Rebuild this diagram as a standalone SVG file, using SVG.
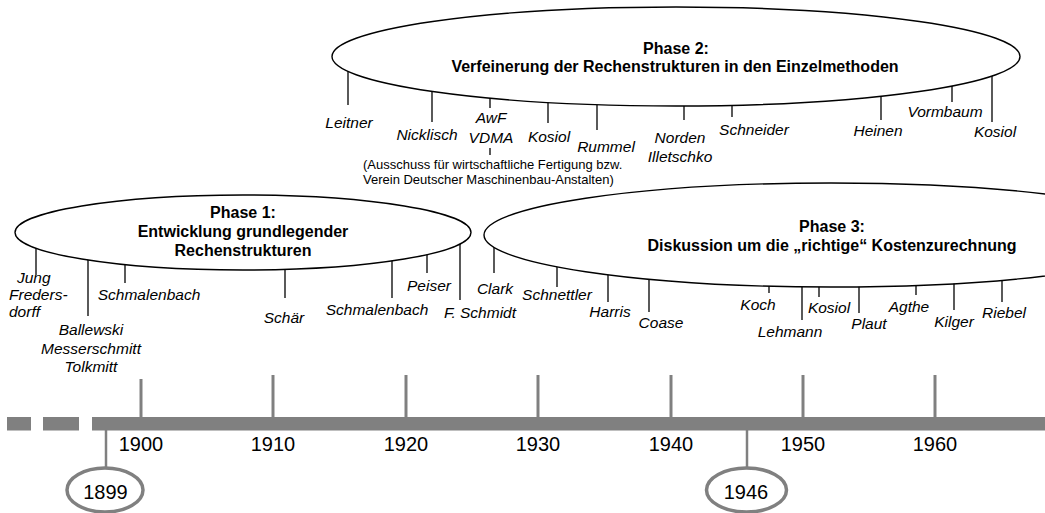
<svg xmlns="http://www.w3.org/2000/svg" width="1045" height="513" viewBox="0 0 1045 513">
<style>
.ph{fill:#fff;stroke:#000;stroke-width:1.4}
.tk{stroke:#000;stroke-width:1.3;fill:none}
.gl{stroke:#808080;stroke-width:2.5;fill:none}
.gtk{stroke:#808080;stroke-width:3;fill:none}
.bar{fill:#808080}
.mk{fill:#fff;stroke:#808080;stroke-width:3.5}
text{font-family:"Liberation Sans",Arial,Helvetica,sans-serif;fill:#000}
.nm{font-style:italic;font-size:15.5px;text-anchor:middle}
.nl{font-style:italic;font-size:15.5px;text-anchor:start}
.ti{font-weight:bold;font-size:16px;text-anchor:middle}
.yr{font-size:20px;text-anchor:middle}
.note{font-size:13px}
</style>
<g id="timeline">
<rect class="bar" x="7" y="417" width="24" height="13.5"/>
<rect class="bar" x="43" y="417" width="36" height="13.5"/>
<rect class="bar" x="92" y="417" width="953" height="13.5"/>
<line class="gtk" x1="141" y1="379" x2="141" y2="418"/>
<line class="gtk" x1="273" y1="375" x2="273" y2="418"/>
<line class="gtk" x1="406" y1="375" x2="406" y2="418"/>
<line class="gtk" x1="538" y1="375" x2="538" y2="418"/>
<line class="gtk" x1="671" y1="375" x2="671" y2="418"/>
<line class="gtk" x1="803" y1="375" x2="803" y2="418"/>
<line class="gtk" x1="935" y1="375" x2="935" y2="418"/>
<text class="yr" x="141" y="451">1900</text>
<text class="yr" x="273" y="451">1910</text>
<text class="yr" x="406" y="451">1920</text>
<text class="yr" x="538" y="451">1930</text>
<text class="yr" x="671" y="451">1940</text>
<text class="yr" x="803" y="451">1950</text>
<text class="yr" x="935" y="451">1960</text>
</g>
<g id="connectors">
<line class="gl" x1="106" y1="430" x2="106" y2="469"/>
<line class="gl" x1="747" y1="430" x2="747" y2="469"/>
<line class="tk" x1="348" y1="68" x2="348" y2="105"/>
<line class="tk" x1="432" y1="88" x2="432" y2="122"/>
<line class="tk" x1="490" y1="95" x2="490" y2="108"/>
<line class="tk" x1="490" y1="148" x2="490" y2="155"/>
<line class="tk" x1="548" y1="99" x2="548" y2="123"/>
<line class="tk" x1="597" y1="101" x2="597" y2="130"/>
<line class="tk" x1="684" y1="102" x2="684" y2="120"/>
<line class="tk" x1="732" y1="102" x2="732" y2="117"/>
<line class="tk" x1="881" y1="93" x2="881" y2="120"/>
<line class="tk" x1="952" y1="83" x2="952" y2="102"/>
<line class="tk" x1="992" y1="73" x2="992" y2="122"/>
<line class="tk" x1="36" y1="245" x2="36" y2="275"/>
<line class="tk" x1="88" y1="257" x2="88" y2="316"/>
<line class="tk" x1="125" y1="261" x2="125" y2="283"/>
<line class="tk" x1="285" y1="266" x2="285" y2="298"/>
<line class="tk" x1="392" y1="258" x2="392" y2="298"/>
<line class="tk" x1="427" y1="251" x2="427" y2="273"/>
<line class="tk" x1="460" y1="241" x2="460" y2="300"/>
<line class="tk" x1="494" y1="244" x2="494" y2="273"/>
<line class="tk" x1="557" y1="264" x2="557" y2="287"/>
<line class="tk" x1="608" y1="272" x2="608" y2="302"/>
<line class="tk" x1="649" y1="276" x2="649" y2="312"/>
<line class="tk" x1="769" y1="283" x2="769" y2="293"/>
<line class="tk" x1="802" y1="284" x2="802" y2="320"/>
<line class="tk" x1="819" y1="284" x2="819" y2="297"/>
<line class="tk" x1="859" y1="284" x2="859" y2="313"/>
<line class="tk" x1="916" y1="282" x2="916" y2="295"/>
<line class="tk" x1="954" y1="280" x2="954" y2="310"/>
<line class="tk" x1="1002" y1="277" x2="1002" y2="302"/>
</g>
<g id="phase2">
<ellipse class="ph" cx="676" cy="56.5" rx="344" ry="49.5"/>
<text class="ti" x="676" y="53.5">Phase 2:</text>
<text class="ti" x="675" y="72">Verfeinerung der Rechenstrukturen in den Einzelmethoden</text>
</g>
<g id="phase1">
<ellipse class="ph" cx="243" cy="232.5" rx="228" ry="37.5"/>
<text class="ti" x="243" y="218">Phase 1:</text>
<text class="ti" x="243" y="237">Entwicklung grundlegender</text>
<text class="ti" x="243" y="256">Rechenstrukturen</text>
</g>
<g id="phase3">
<ellipse class="ph" cx="831" cy="235" rx="347" ry="52"/>
<text class="ti" x="832" y="231.5">Phase 3:</text>
<text class="ti" x="832" y="250.5">Diskussion um die „richtige“ Kostenzurechnung</text>
</g>
<g id="names-phase2">
<text class="nm" x="349" y="128">Leitner</text>
<text class="nm" x="427" y="140">Nicklisch</text>
<text class="nm" x="491" y="123">AwF</text>
<text class="nm" x="491" y="143">VDMA</text>
<text class="note" x="363" y="169">(Ausschuss für wirtschaftliche Fertigung bzw.</text>
<text class="note" x="363" y="184">Verein Deutscher Maschinenbau-Anstalten)</text>
<text class="nm" x="549" y="142">Kosiol</text>
<text class="nm" x="606" y="152">Rummel</text>
<text class="nm" x="680" y="143">Norden</text>
<text class="nm" x="680" y="162">Illetschko</text>
<text class="nm" x="754" y="135">Schneider</text>
<text class="nm" x="878" y="136">Heinen</text>
<text class="nm" x="945" y="117">Vormbaum</text>
<text class="nm" x="995" y="137">Kosiol</text>
</g>
<g id="names-phase1">
<text class="nl" x="17" y="283">Jung</text>
<text class="nl" x="9" y="300">Freders-</text>
<text class="nl" x="9" y="317">dorff</text>
<text class="nm" x="91" y="335">Ballewski</text>
<text class="nm" x="91" y="353.5">Messerschmitt</text>
<text class="nm" x="91" y="372">Tolkmitt</text>
<text class="nm" x="149" y="300">Schmalenbach</text>
<text class="nm" x="284" y="323">Schär</text>
<text class="nm" x="377" y="315">Schmalenbach</text>
<text class="nm" x="429" y="291">Peiser</text>
<text class="nm" x="480" y="318">F. Schmidt</text>
</g>
<g id="names-phase3">
<text class="nm" x="495" y="294">Clark</text>
<text class="nm" x="557" y="300">Schnettler</text>
<text class="nm" x="610" y="317">Harris</text>
<text class="nm" x="661" y="328">Coase</text>
<text class="nm" x="758" y="310">Koch</text>
<text class="nm" x="790" y="337">Lehmann</text>
<text class="nm" x="829" y="313">Kosiol</text>
<text class="nm" x="869" y="329">Plaut</text>
<text class="nm" x="909" y="312">Agthe</text>
<text class="nm" x="954" y="327">Kilger</text>
<text class="nm" x="1004" y="318">Riebel</text>
</g>
<g id="year1899">
<ellipse class="mk" cx="105" cy="490" rx="38" ry="22"/>
<text class="yr" x="105.5" y="499">1899</text>
</g>
<g id="year1946">
<ellipse class="mk" cx="746.5" cy="490" rx="40" ry="22"/>
<text class="yr" x="746" y="499">1946</text>
</g>
</svg>
